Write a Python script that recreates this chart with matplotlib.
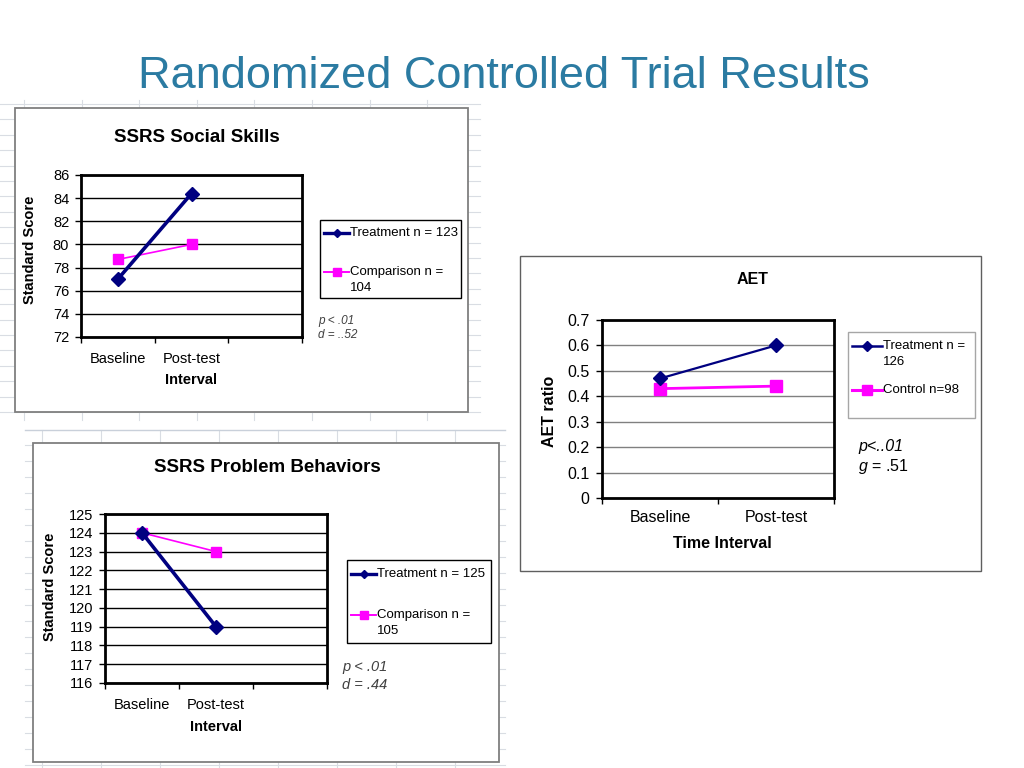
import matplotlib
matplotlib.use('Agg')
import matplotlib.pyplot as plt
import numpy as np
from matplotlib.patches import Rectangle

plt.rcParams['font.family'] = ['Liberation Sans', 'DejaVu Sans']
plt.rcParams['mathtext.fontset'] = 'custom'
plt.rcParams['mathtext.it'] = 'Liberation Sans:italic'
plt.rcParams['mathtext.rm'] = 'Liberation Sans'

W, H = 1024, 768

# data
intervals = ['Baseline', 'Post-test']

social_treatment = [77.0, 84.4]
social_comparison = [78.7, 80.0]
social_labels = ['Treatment n = 123', 'Comparison n =\n104']
social_ticks = [72, 74, 76, 78, 80, 82, 84, 86]

problem_treatment = [124.0, 119.0]
problem_comparison = [124.0, 123.0]
problem_labels = ['Treatment n = 125', 'Comparison n =\n105']
problem_ticks = [116, 117, 118, 119, 120, 121, 122, 123, 124, 125]

aet_treatment = [0.47, 0.60]
aet_control = [0.43, 0.44]
aet_labels = ['Treatment n =\n126', 'Control n=98']
aet_ticks = [0, 0.1, 0.2, 0.3, 0.4, 0.5, 0.6, 0.7]

NAVY = '#000080'
MAGENTA = '#FF00FF'
TEAL = '#2B7BA2'


def fig_box(x0, y0, x1, y1):
    # pixel box (top-left origin) -> figure fraction [left, bottom, w, h]
    return [x0 / W, 1 - y1 / H, (x1 - x0) / W, (y1 - y0) / H]


def sheet_grid(ax, x0, y0, x1, y1, xstart, dx, ystart, dy):
    for x in np.arange(xstart, x1, dx):
        ax.plot([x, x], [y0, y1], color='#D9DDE3', lw=0.8, zorder=0)
    for y in np.arange(ystart, y1, dy):
        ax.plot([x0, x1], [y, y], color='#D9DDE3', lw=0.8, zorder=0)


def line_chart(box, treat, comp, ticks, nslots, grid_color, tick_size,
               lw_t, lw_c, ms_t, ms_c, xpad, ypad, fmt=None):
    ax = fig.add_axes(fig_box(*box))
    x = np.arange(len(intervals)) + 0.5
    ax.plot(x, treat, color=NAVY, marker='D', lw=lw_t, ms=ms_t, zorder=4)
    ax.plot(x, comp, color=MAGENTA, marker='s', lw=lw_c, ms=ms_c, zorder=3)
    ax.set_xlim(0, nslots)
    ax.set_ylim(ticks[0], ticks[-1])
    ax.set_yticks(ticks)
    if fmt is not None:
        ax.set_yticklabels([fmt(t) for t in ticks])
    ax.set_xticks(np.arange(nslots + 1))
    ax.set_xticklabels([])
    ax.set_xticks(x, minor=True)
    ax.set_xticklabels(intervals, minor=True)
    ax.tick_params(axis='x', which='minor', length=0, pad=xpad,
                   labelsize=tick_size)
    ax.tick_params(axis='both', which='major', length=4, width=1,
                   direction='out', labelsize=tick_size)
    ax.tick_params(axis='y', pad=ypad)
    ax.grid(axis='y', color=grid_color, lw=1)
    ax.set_axisbelow(True)
    for s in ax.spines.values():
        s.set_linewidth(2)
        s.set_color('black')
    return ax


def legend_box(box, labels, rows, edge, fontsize, handle_w, line_h):
    # Excel-style legend: frame, line sample with marker, wrapped label
    x0, y0, x1, y1 = box
    bg.add_patch(Rectangle((x0, y0), x1 - x0, y1 - y0, facecolor='white',
                           edgecolor=edge, lw=1, zorder=2))
    for label, (y, color, marker, ms, lw) in zip(labels, rows):
        hx0, hx1 = x0 + 4, x0 + 4 + handle_w
        bg.plot([hx0, hx1], [y, y], color=color, lw=lw, zorder=3)
        bg.plot([(hx0 + hx1) / 2], [y], color=color, marker=marker, ms=ms,
                zorder=4)
        for i, part in enumerate(label.split('\n')):
            bg.text(hx1 + 1, y + i * line_h, part, fontsize=fontsize,
                    ha='left', va='center', zorder=4)


fig = plt.figure(figsize=(W / 100, H / 100), dpi=100)
bg = fig.add_axes([0, 0, 1, 1])
bg.set_xlim(0, W)
bg.set_ylim(H, 0)
bg.axis('off')

# spreadsheet backgrounds behind the two pasted SSRS charts
sheet_grid(bg, 0, 100, 480, 420, 24, 57.6, 104, 15.4)
sheet_grid(bg, 25, 430, 505, 768, 42, 59, 445, 16)
bg.plot([25, 505], [430, 430], color='#C9D0DA', lw=1, zorder=0)

# chart frames
bg.add_patch(Rectangle((15, 108), 453, 304, facecolor='white',
                       edgecolor='#7F7F7F', lw=1.3, zorder=1))
bg.add_patch(Rectangle((33, 443), 466, 319, facecolor='white',
                       edgecolor='#7F7F7F', lw=1.3, zorder=1))
bg.add_patch(Rectangle((520, 256), 461, 315, facecolor='white',
                       edgecolor='#5F5F5F', lw=1.0, zorder=1))

# slide title
bg.text(504, 76, 'Randomized Controlled Trial Results', color=TEAL,
        fontsize=32.5, ha='center', va='center', zorder=2)

# SSRS Social Skills
line_chart((81, 175, 302, 337), social_treatment, social_comparison,
           social_ticks, 3, 'black', 10.5, 2.6, 1.2, 7, 7.5, 11, 4.5)
legend_box((320, 220, 461, 298), social_labels,
           [(233, NAVY, 'D', 4.5, 2.4), (272, MAGENTA, 's', 6, 1.4)],
           'black', 9.5, 25, 16)
bg.text(197, 137, 'SSRS Social Skills', fontsize=13.5, fontweight='bold',
        ha='center', va='center', zorder=2)
bg.text(30, 250, 'Standard Score', fontsize=10.5, fontweight='bold',
        rotation=90, ha='center', va='center', zorder=2)
bg.text(191, 380, 'Interval', fontsize=10.5, fontweight='bold',
        ha='center', va='center', zorder=2)
bg.text(318, 321, 'p < .01', fontsize=8.5, style='italic',
        color='#404040', ha='left', va='center', zorder=2)
bg.text(318, 335, 'd = ..52', fontsize=8.5, style='italic',
        color='#404040', ha='left', va='center', zorder=2)

# SSRS Problem Behaviors
line_chart((105, 514, 327, 683), problem_treatment, problem_comparison,
           problem_ticks, 3, 'black', 10.5, 2.6, 1.2, 7, 7.5, 11, 4.5)
legend_box((347, 560, 491, 643), problem_labels,
           [(574, NAVY, 'D', 4.5, 2.4), (615, MAGENTA, 's', 6, 1.4)],
           'black', 9.5, 25, 16)
bg.text(267, 468, 'SSRS Problem Behaviors', fontsize=13.5, fontweight='bold',
        ha='center', va='center', zorder=2)
bg.text(50, 587, 'Standard Score', fontsize=10.5, fontweight='bold',
        rotation=90, ha='center', va='center', zorder=2)
bg.text(216, 727, 'Interval', fontsize=10.5, fontweight='bold',
        ha='center', va='center', zorder=2)
bg.text(342, 667, 'p < .01', fontsize=10.5, style='italic',
        color='#404040', ha='left', va='center', zorder=2)
bg.text(342, 685, 'd = .44', fontsize=10.5, style='italic',
        color='#404040', ha='left', va='center', zorder=2)

# AET
line_chart((602, 320, 834, 498), aet_treatment, aet_control,
           aet_ticks, 2, '#808080', 11.5, 1.6, 2.0, 7, 8.5, 9, 5,
           fmt=lambda t: '0' if t == 0 else f'{t:.1f}')
legend_box((848, 332, 975, 418), aet_labels,
           [(346, NAVY, 'D', 5, 1.8), (390, MAGENTA, 's', 6.5, 2.2)],
           '#A6A6A6', 9.5, 30, 16)
bg.text(753, 279, 'AET', fontsize=11.5, fontweight='bold',
        ha='center', va='center', zorder=2)
bg.text(549, 411, 'AET ratio', fontsize=11.5, fontweight='bold',
        rotation=90, ha='center', va='center', zorder=2)
bg.text(722, 543, 'Time Interval', fontsize=11.5, fontweight='bold',
        ha='center', va='center', zorder=2)
bg.text(858, 447, 'p<..01', fontsize=11.5, style='italic',
        ha='left', va='center', zorder=2)
bg.text(858, 467, '$g$ = .51', fontsize=11.5,
        ha='left', va='center', zorder=2)

fig.savefig('out.png', dpi=100)
